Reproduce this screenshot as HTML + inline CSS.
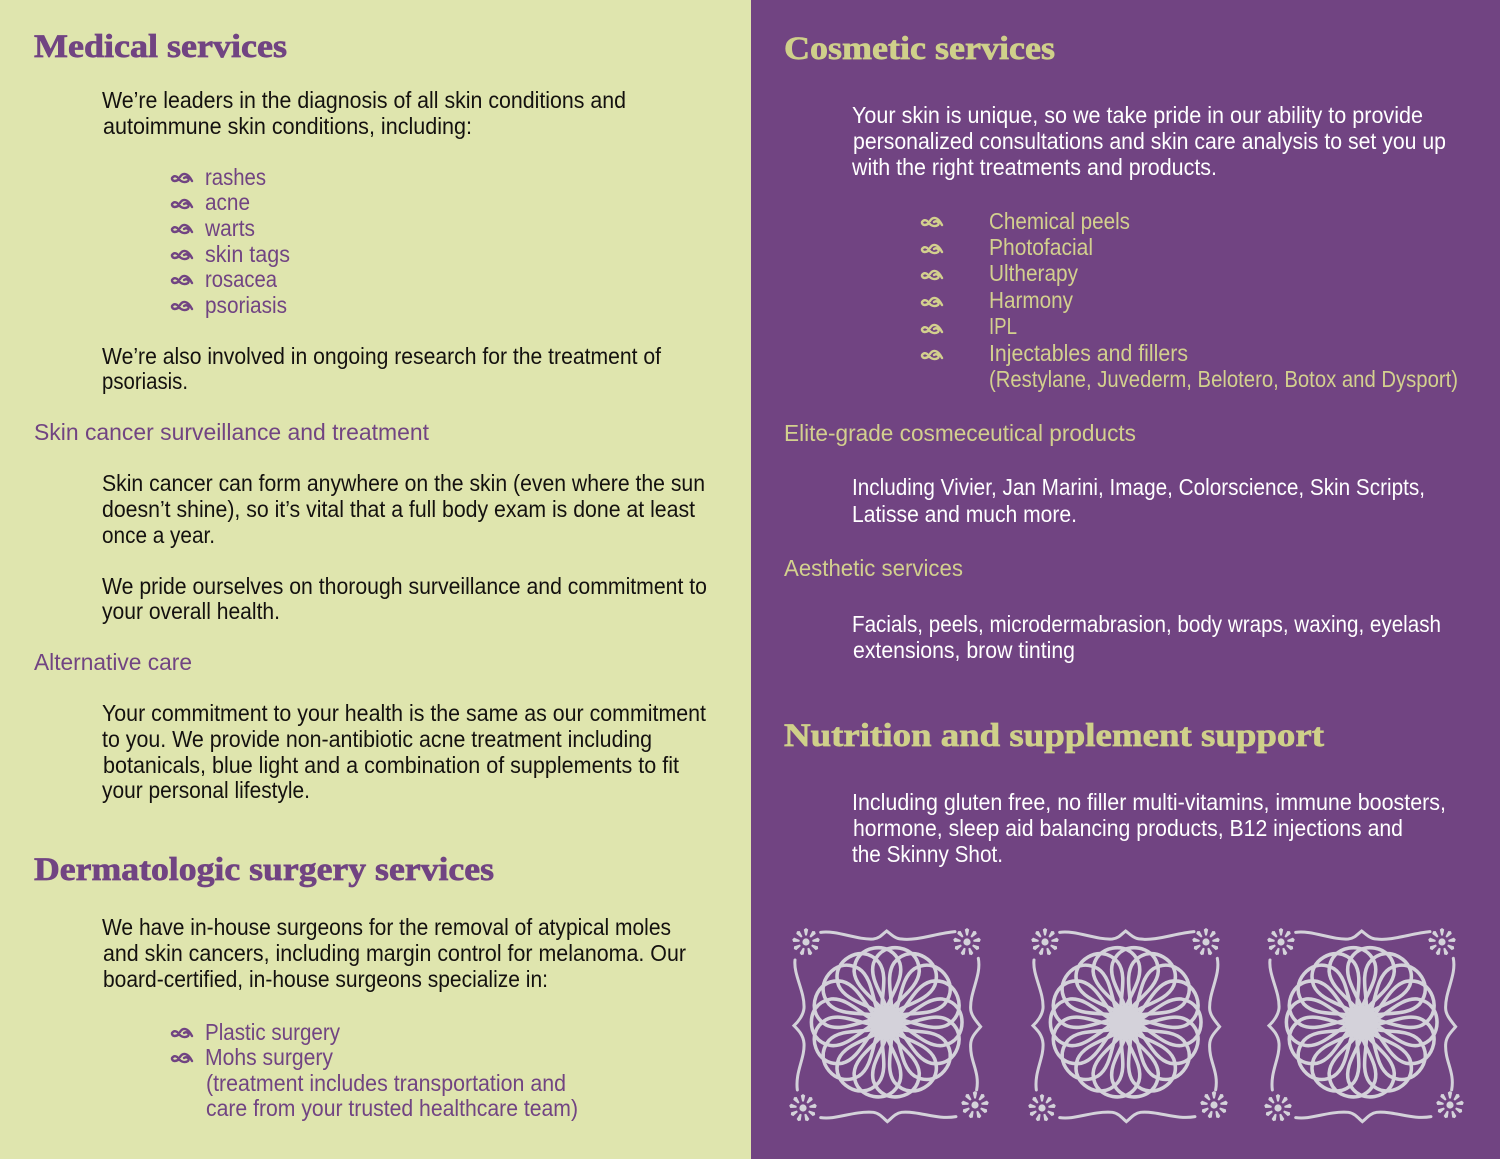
<!DOCTYPE html>
<html><head><meta charset="utf-8"><style>
html,body{margin:0;padding:0;background:#714482}
svg{display:block}
text{font-family:"Liberation Sans",sans-serif;font-size:23px}
.h{font-family:"Liberation Serif",serif;font-weight:bold;font-size:33px;stroke-width:.7px}
.k{fill:#14110f}.p{fill:#714482}.w{fill:#fff}.g{fill:#d3d08e}
.hp{fill:#714482;stroke:#714482}.hg{fill:#cfd08a;stroke:#cfd08a}
</style></head><body>
<svg xmlns="http://www.w3.org/2000/svg" width="1500" height="1159" viewBox="0 0 1500 1159">
<defs>
<path id="pt" d="M10 0C26 -7 42 -27 60 -25C76 -22 81 -10 81 0C81 10 76 22 60 25C42 27 26 7 10 0Z" transform="scale(.93)" fill="none" stroke="#d4d2da" stroke-width="3.8"/>
<g id="flower">
<use href="#pt" transform="rotate(0)"/><use href="#pt" transform="rotate(20)"/><use href="#pt" transform="rotate(40)"/><use href="#pt" transform="rotate(60)"/><use href="#pt" transform="rotate(80)"/><use href="#pt" transform="rotate(100)"/><use href="#pt" transform="rotate(120)"/><use href="#pt" transform="rotate(140)"/><use href="#pt" transform="rotate(160)"/><use href="#pt" transform="rotate(180)"/><use href="#pt" transform="rotate(200)"/><use href="#pt" transform="rotate(220)"/><use href="#pt" transform="rotate(240)"/><use href="#pt" transform="rotate(260)"/><use href="#pt" transform="rotate(280)"/><use href="#pt" transform="rotate(300)"/><use href="#pt" transform="rotate(320)"/><use href="#pt" transform="rotate(340)"/>
<circle r="17" fill="#d4d2da"/>
</g>
<path id="sp" d="M-.9 -6.5L.9 -6.5L2.2 -12.5L0 -14L-2.2 -12.5Z" fill="#d4d2da"/>
<g id="small">
<circle r="3.6" fill="#d4d2da"/>
<use href="#sp"/><use href="#sp" transform="rotate(40)"/><use href="#sp" transform="rotate(80)"/><use href="#sp" transform="rotate(120)"/><use href="#sp" transform="rotate(160)"/><use href="#sp" transform="rotate(200)"/><use href="#sp" transform="rotate(240)"/><use href="#sp" transform="rotate(280)"/><use href="#sp" transform="rotate(320)"/>
</g>
<g id="motif">
<use href="#flower" transform="translate(106.7,107.3)"/>
<use href="#small" transform="translate(26,27)"/>
<use href="#small" transform="translate(187,27)"/>
<use href="#small" transform="translate(23,193)"/>
<use href="#small" transform="translate(195,190)"/>
<g fill="none" stroke="#d4d2da" stroke-width="9" stroke-linecap="round" transform="scale(.3333)">
<path d="M122 52C170 45 230 75 280 72C300 70 310 55 320 48C330 55 345 72 365 72C410 78 470 55 525 50"/>
<path d="M122 608C170 615 215 588 280 592C300 595 310 610 322 620C335 610 345 595 365 592C420 588 470 615 528 605" />
<path d="M45 135C40 180 75 230 72 280C70 300 55 320 42 332C55 345 70 360 72 385C75 430 45 470 52 525"/>
<path d="M595 130C605 180 570 230 572 280C572 300 590 320 602 335C590 350 572 365 572 390C570 440 600 470 590 525"/>
</g>
</g>
<g id="bp" fill="none" stroke="#714482" stroke-width="2.4" stroke-linecap="round">
<path d="M-10 0C-8 -3 -5 -2 -3 1C-1 4 3 5 6 3C8 1 5 -2 2 0"/>
<path d="M-10 1C-9 4 -6 3 -4 2"/>
<path d="M-2 -1C1 -6 6 -5 10 3"/>
</g>
<g id="bg" fill="none" stroke="#d3d08e" stroke-width="2.4" stroke-linecap="round">
<path d="M-10 0C-8 -3 -5 -2 -3 1C-1 4 3 5 6 3C8 1 5 -2 2 0"/>
<path d="M-10 1C-9 4 -6 3 -4 2"/>
<path d="M-2 -1C1 -6 6 -5 10 3"/>
</g>
</defs>
<rect width="751" height="1159" fill="#dfe5ae"/>
<rect x="751" width="749" height="1159" fill="#714482"/>

<text class="h hp" x="34" y="57" textLength="253" lengthAdjust="spacingAndGlyphs">Medical services</text>
<text class="k" x="102" y="108" textLength="524" lengthAdjust="spacingAndGlyphs">We’re leaders in the diagnosis of all skin conditions and</text>
<text class="k" x="103" y="134" textLength="369" lengthAdjust="spacingAndGlyphs">autoimmune skin conditions, including:</text>
<text class="p" x="205" y="185" textLength="61" lengthAdjust="spacingAndGlyphs">rashes</text>
<text class="p" x="205" y="210" textLength="45" lengthAdjust="spacingAndGlyphs">acne</text>
<text class="p" x="205" y="236" textLength="50" lengthAdjust="spacingAndGlyphs">warts</text>
<text class="p" x="205" y="262" textLength="85" lengthAdjust="spacingAndGlyphs">skin tags</text>
<text class="p" x="205" y="287" textLength="72" lengthAdjust="spacingAndGlyphs">rosacea</text>
<text class="p" x="205" y="313" textLength="82" lengthAdjust="spacingAndGlyphs">psoriasis</text>
<text class="k" x="102" y="364" textLength="559" lengthAdjust="spacingAndGlyphs">We’re also involved in ongoing research for the treatment of</text>
<text class="k" x="102" y="389" textLength="86" lengthAdjust="spacingAndGlyphs">psoriasis.</text>
<text class="p" x="34" y="440" textLength="395" lengthAdjust="spacingAndGlyphs">Skin cancer surveillance and treatment</text>
<text class="k" x="102" y="491" textLength="603" lengthAdjust="spacingAndGlyphs">Skin cancer can form anywhere on the skin (even where the sun</text>
<text class="k" x="102" y="517" textLength="593" lengthAdjust="spacingAndGlyphs">doesn’t shine), so it’s vital that a full body exam is done at least</text>
<text class="k" x="102" y="543" textLength="113" lengthAdjust="spacingAndGlyphs">once a year.</text>
<text class="k" x="102" y="594" textLength="605" lengthAdjust="spacingAndGlyphs">We pride ourselves on thorough surveillance and commitment to</text>
<text class="k" x="102" y="619" textLength="178" lengthAdjust="spacingAndGlyphs">your overall health.</text>
<text class="p" x="34" y="670" textLength="158" lengthAdjust="spacingAndGlyphs">Alternative care</text>
<text class="k" x="102" y="721" textLength="604" lengthAdjust="spacingAndGlyphs">Your commitment to your health is the same as our commitment</text>
<text class="k" x="102" y="747" textLength="550" lengthAdjust="spacingAndGlyphs">to you. We provide non-antibiotic acne treatment including</text>
<text class="k" x="103" y="773" textLength="576" lengthAdjust="spacingAndGlyphs">botanicals, blue light and a combination of supplements to fit</text>
<text class="k" x="102" y="798" textLength="208" lengthAdjust="spacingAndGlyphs">your personal lifestyle.</text>
<text class="h hp" x="34" y="880" textLength="460" lengthAdjust="spacingAndGlyphs">Dermatologic surgery services</text>
<text class="k" x="102" y="935" textLength="569" lengthAdjust="spacingAndGlyphs">We have in-house surgeons for the removal of atypical moles</text>
<text class="k" x="103" y="961" textLength="583" lengthAdjust="spacingAndGlyphs">and skin cancers, including margin control for melanoma. Our</text>
<text class="k" x="103" y="987" textLength="445" lengthAdjust="spacingAndGlyphs">board-certified, in-house surgeons specialize in:</text>
<text class="p" x="205" y="1040" textLength="135" lengthAdjust="spacingAndGlyphs">Plastic surgery</text>
<text class="p" x="205" y="1065" textLength="128" lengthAdjust="spacingAndGlyphs">Mohs surgery</text>
<text class="p" x="206" y="1091" textLength="360" lengthAdjust="spacingAndGlyphs">(treatment includes transportation and</text>
<text class="p" x="206" y="1116" textLength="372" lengthAdjust="spacingAndGlyphs">care from your trusted healthcare team)</text>

<use href="#bp" x="182" y="178"/><use href="#bp" x="182" y="204"/><use href="#bp" x="182" y="229"/><use href="#bp" x="182" y="255"/><use href="#bp" x="182" y="280"/><use href="#bp" x="182" y="306"/><use href="#bp" x="182" y="1033"/><use href="#bp" x="182" y="1058"/>

<text class="h hg" x="784" y="59" textLength="271" lengthAdjust="spacingAndGlyphs">Cosmetic services</text>
<text class="w" x="852" y="123" textLength="571" lengthAdjust="spacingAndGlyphs">Your skin is unique, so we take pride in our ability to provide</text>
<text class="w" x="853" y="149" textLength="593" lengthAdjust="spacingAndGlyphs">personalized consultations and skin care analysis to set you up</text>
<text class="w" x="852" y="175" textLength="365" lengthAdjust="spacingAndGlyphs">with the right treatments and products.</text>
<text class="g" x="989" y="229" textLength="141" lengthAdjust="spacingAndGlyphs">Chemical peels</text>
<text class="g" x="989" y="255" textLength="104" lengthAdjust="spacingAndGlyphs">Photofacial</text>
<text class="g" x="989" y="281" textLength="89" lengthAdjust="spacingAndGlyphs">Ultherapy</text>
<text class="g" x="989" y="308" textLength="84" lengthAdjust="spacingAndGlyphs">Harmony</text>
<text class="g" x="989" y="334" textLength="28" lengthAdjust="spacingAndGlyphs">IPL</text>
<text class="g" x="989" y="361" textLength="199" lengthAdjust="spacingAndGlyphs">Injectables and fillers</text>
<text class="g" x="989" y="387" textLength="469" lengthAdjust="spacingAndGlyphs">(Restylane, Juvederm, Belotero, Botox and Dysport)</text>
<text class="g" x="784" y="441" textLength="352" lengthAdjust="spacingAndGlyphs">Elite-grade cosmeceutical products</text>
<text class="w" x="852" y="495" textLength="573" lengthAdjust="spacingAndGlyphs">Including Vivier, Jan Marini, Image, Colorscience, Skin Scripts,</text>
<text class="w" x="852" y="522" textLength="225" lengthAdjust="spacingAndGlyphs">Latisse and much more.</text>
<text class="g" x="784" y="576" textLength="179" lengthAdjust="spacingAndGlyphs">Aesthetic services</text>
<text class="w" x="852" y="632" textLength="589" lengthAdjust="spacingAndGlyphs">Facials, peels, microdermabrasion, body wraps, waxing, eyelash</text>
<text class="w" x="853" y="658" textLength="222" lengthAdjust="spacingAndGlyphs">extensions, brow tinting</text>
<text class="h hg" x="784" y="746" textLength="540" lengthAdjust="spacingAndGlyphs">Nutrition and supplement support</text>
<text class="w" x="852" y="810" textLength="594" lengthAdjust="spacingAndGlyphs">Including gluten free, no filler multi-vitamins, immune boosters,</text>
<text class="w" x="853" y="836" textLength="550" lengthAdjust="spacingAndGlyphs">hormone, sleep aid balancing products, B12 injections and</text>
<text class="w" x="852" y="862" textLength="151" lengthAdjust="spacingAndGlyphs">the Skinny Shot.</text>

<use href="#bg" x="932" y="222"/><use href="#bg" x="932" y="249"/><use href="#bg" x="932" y="275"/><use href="#bg" x="932" y="302"/><use href="#bg" x="932" y="329"/><use href="#bg" x="932" y="355"/>

<use href="#motif" transform="translate(780,915)"/>
<use href="#motif" transform="translate(1019,915)"/>
<use href="#motif" transform="translate(1255,915)"/>
</svg>
</body></html>
